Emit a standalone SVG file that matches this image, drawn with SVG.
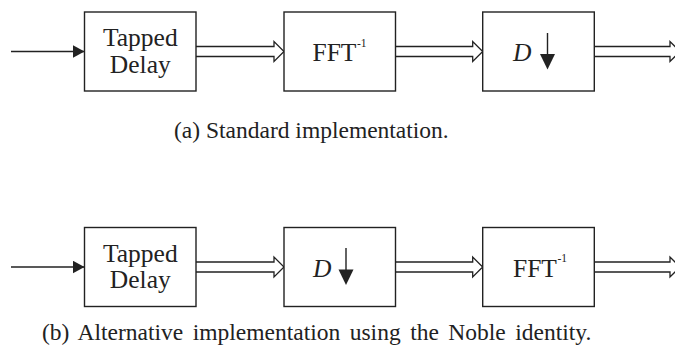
<svg xmlns="http://www.w3.org/2000/svg" width="675" height="358" viewBox="0 0 675 358">
<defs>
<style>
.box{fill:#fff;stroke:#222;stroke-width:1.4}
.ln{fill:none;stroke:#222;stroke-width:1.4}
.dbl{fill:#fff;stroke:#222;stroke-width:1.3;stroke-linejoin:miter}
.t{font-family:"Liberation Serif","Times New Roman",serif;font-size:25.5px;fill:#222}
.sup{font-family:"Liberation Serif","Times New Roman",serif;font-size:11.5px;fill:#222}
.cap{font-family:"Liberation Serif","Times New Roman",serif;font-size:23.5px;fill:#222}
.hd{fill:#222}
</style>
<marker id="ah" viewBox="0 0 12 13" refX="12" refY="6.5" markerWidth="12" markerHeight="13" markerUnits="userSpaceOnUse" orient="auto">
<path d="M0,0 L12,6.5 L0,13 Z" class="hd"/>
</marker>
</defs>
<g id="connectors">
<line class="ln" x1="11" y1="51.5" x2="84.5" y2="51.5" marker-end="url(#ah)"/>
<path class="dbl" d="M196,46.5 H274 V41.5 L284,51.5 L274,61.5 V56.5 H196"/>
<path class="dbl" d="M395.5,46.5 H472.7 V41.5 L482.7,51.5 L472.7,61.5 V56.5 H395.5"/>
<path class="dbl" d="M594.3,46.5 H670 V41.5 L680,51.5 L670,61.5 V56.5 H594.3"/>
<line class="ln" x1="11" y1="267" x2="84.5" y2="267" marker-end="url(#ah)"/>
<path class="dbl" d="M196,262 H274 V257 L284,267 L274,277 V272 H196"/>
<path class="dbl" d="M395.5,262 H472.7 V257 L482.7,267 L472.7,277 V272 H395.5"/>
<path class="dbl" d="M594.3,262 H670 V257 L680,267 L670,277 V272 H594.3"/>
</g>
<g id="a_tapped">
<rect class="box" x="84.5" y="12" width="111.5" height="79"/>
<text class="t" x="140.3" y="46" text-anchor="middle">Tapped</text>
<text class="t" x="140.3" y="72.5" text-anchor="middle">Delay</text>
</g>
<g id="a_fft">
<rect class="box" x="284" y="12" width="111.5" height="79"/>
<text class="t" x="312.5" y="61">FFT</text>
<text class="sup" x="357" y="46.5">-1</text>
</g>
<g id="a_down">
<rect class="box" x="482.7" y="12" width="111.6" height="79"/>
<text class="t" x="513" y="61" font-style="italic">D</text>
<line class="ln" x1="547.5" y1="33" x2="547.5" y2="56"/>
<path class="hd" d="M540,54 L555,54 L547.5,69.5 Z"/>
</g>
<text id="cap_a" class="cap" x="174" y="138">(a) Standard implementation.</text>
<g id="b_tapped">
<rect class="box" x="84.5" y="227.5" width="111.5" height="79"/>
<text class="t" x="140.3" y="261.5" text-anchor="middle">Tapped</text>
<text class="t" x="140.3" y="288" text-anchor="middle">Delay</text>
</g>
<g id="b_down">
<rect class="box" x="284" y="227.5" width="111.5" height="79"/>
<text class="t" x="313" y="276.5" font-style="italic">D</text>
<line class="ln" x1="346" y1="248" x2="346" y2="271.5"/>
<path class="hd" d="M338.5,269.5 L353.5,269.5 L346,285 Z"/>
</g>
<g id="b_fft">
<rect class="box" x="482.7" y="227.5" width="111.6" height="79"/>
<text class="t" x="513" y="276.5">FFT</text>
<text class="sup" x="557.5" y="262">-1</text>
</g>
<text id="cap_b" class="cap" x="42" y="340" word-spacing="3.6">(b) Alternative implementation using the Noble identity.</text>
</svg>
